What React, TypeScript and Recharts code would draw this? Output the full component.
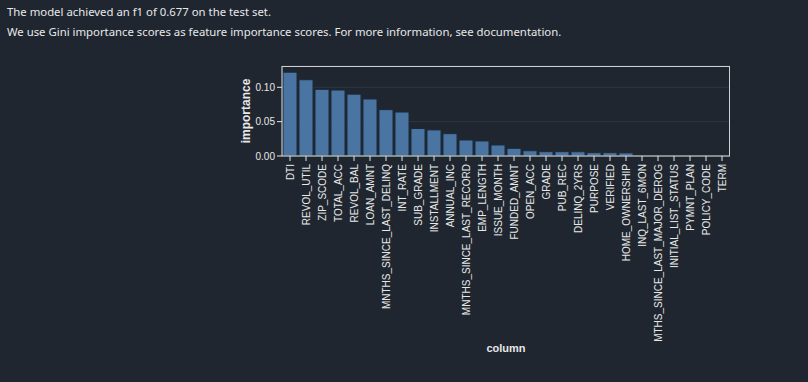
import React from 'react';
import { BarChart, Bar, XAxis, YAxis, CartesianGrid } from 'recharts';

const columns = ['DTI','REVOL_UTIL','ZIP_SCODE','TOTAL_ACC','REVOL_BAL','LOAN_AMNT','MNTHS_SINCE_LAST_DELINQ','INT_RATE','SUB_GRADE','INSTALLMENT','ANNUAL_INC','MNTHS_SINCE_LAST_RECORD','EMP_LENGTH','ISSUE_MONTH','FUNDED_AMNT','OPEN_ACC','GRADE','PUB_REC','DELINQ_2YRS','PURPOSE','VERIFIED','HOME_OWNERSHIP','INQ_LAST_6MON','MTHS_SINCE_LAST_MAJOR_DEROG','INITIAL_LIST_STATUS','PYMNT_PLAN','POLICY_CODE','TERM'];
const importance = [0.122,0.111,0.097,0.096,0.090,0.083,0.0675,0.064,0.040,0.038,0.0325,0.0233,0.0219,0.016,0.0112,0.0077,0.0063,0.0063,0.0062,0.0048,0.0048,0.0045,0,0,0,0,0,0];
const yTicks = [0, 0.05, 0.1];
const headerLines = ['The model achieved an f1 of 0.677 on the test set.', 'We use Gini importance scores as feature importance scores. For more information, see documentation.'];

const data = columns.map((c, i) => ({ column: c, importance: importance[i] }));

const BG = '#1f2630';
const TEXT = '#e8e8e8';
const FONT = '"Liberation Sans", Arial, sans-serif';

const XTick = (props: any) => {
  const { x, y, payload } = props;
  return (
    <text x={x} y={y + 1} transform={`rotate(-90, ${x}, ${y + 1})`} textAnchor="end" dominantBaseline="central" fill={TEXT} fontSize={10} fontFamily={FONT}>
      {payload.value}
    </text>
  );
};

export default function App() {
  return (
    <div style={{ position: 'absolute', left: 0, top: 0, width: 808, height: 382, background: BG, overflow: 'hidden' }}>
      {headerLines.map((t, i) => (
        <div key={i} style={{ position: 'absolute', left: 7, top: 4 + i * 20, color: TEXT, fontFamily: '"Noto Sans", sans-serif', fontSize: 11.35, whiteSpace: 'nowrap' }}>{t}</div>
      ))}
      <div style={{ position: 'absolute', left: 0, top: 0 }}>
        <BarChart width={808} height={382} data={data} margin={{ top: 66, right: 78, left: 222, bottom: 26 }} barCategoryGap={1}>
          <CartesianGrid horizontal vertical={false} stroke="#2d3642" />
          <XAxis dataKey="column" interval={0} height={200} tick={<XTick />} tickLine={{ stroke: TEXT }} axisLine={{ stroke: TEXT }} tickSize={5}
            label={{ value: 'column', position: 'insideBottom', offset: 4, fill: TEXT, fontSize: 11, fontWeight: 'bold', fontFamily: FONT }} />
          <YAxis width={60} domain={[0, 0.131]} ticks={yTicks} tickFormatter={(v: number) => v.toFixed(2)} tick={{ fill: TEXT, fontSize: 10, fontFamily: FONT }} tickLine={{ stroke: TEXT }} axisLine={{ stroke: TEXT }} tickSize={5}
            label={{ value: 'importance', angle: -90, position: 'insideLeft', offset: 24, fill: TEXT, fontSize: 12, fontWeight: 'bold', fontFamily: FONT, style: { textAnchor: 'middle' } }} />
          <Bar dataKey="importance" fill="#4a74a2" stroke="#1c2a3a" strokeWidth={1} isAnimationActive={false} />
        </BarChart>
      </div>
      <div style={{ position: 'absolute', left: 282, top: 66, width: 448, height: 90, borderTop: '1px solid #d0d0d0', borderRight: '1px solid #d0d0d0', boxSizing: 'border-box', pointerEvents: 'none' }} />
    </div>
  );
}
